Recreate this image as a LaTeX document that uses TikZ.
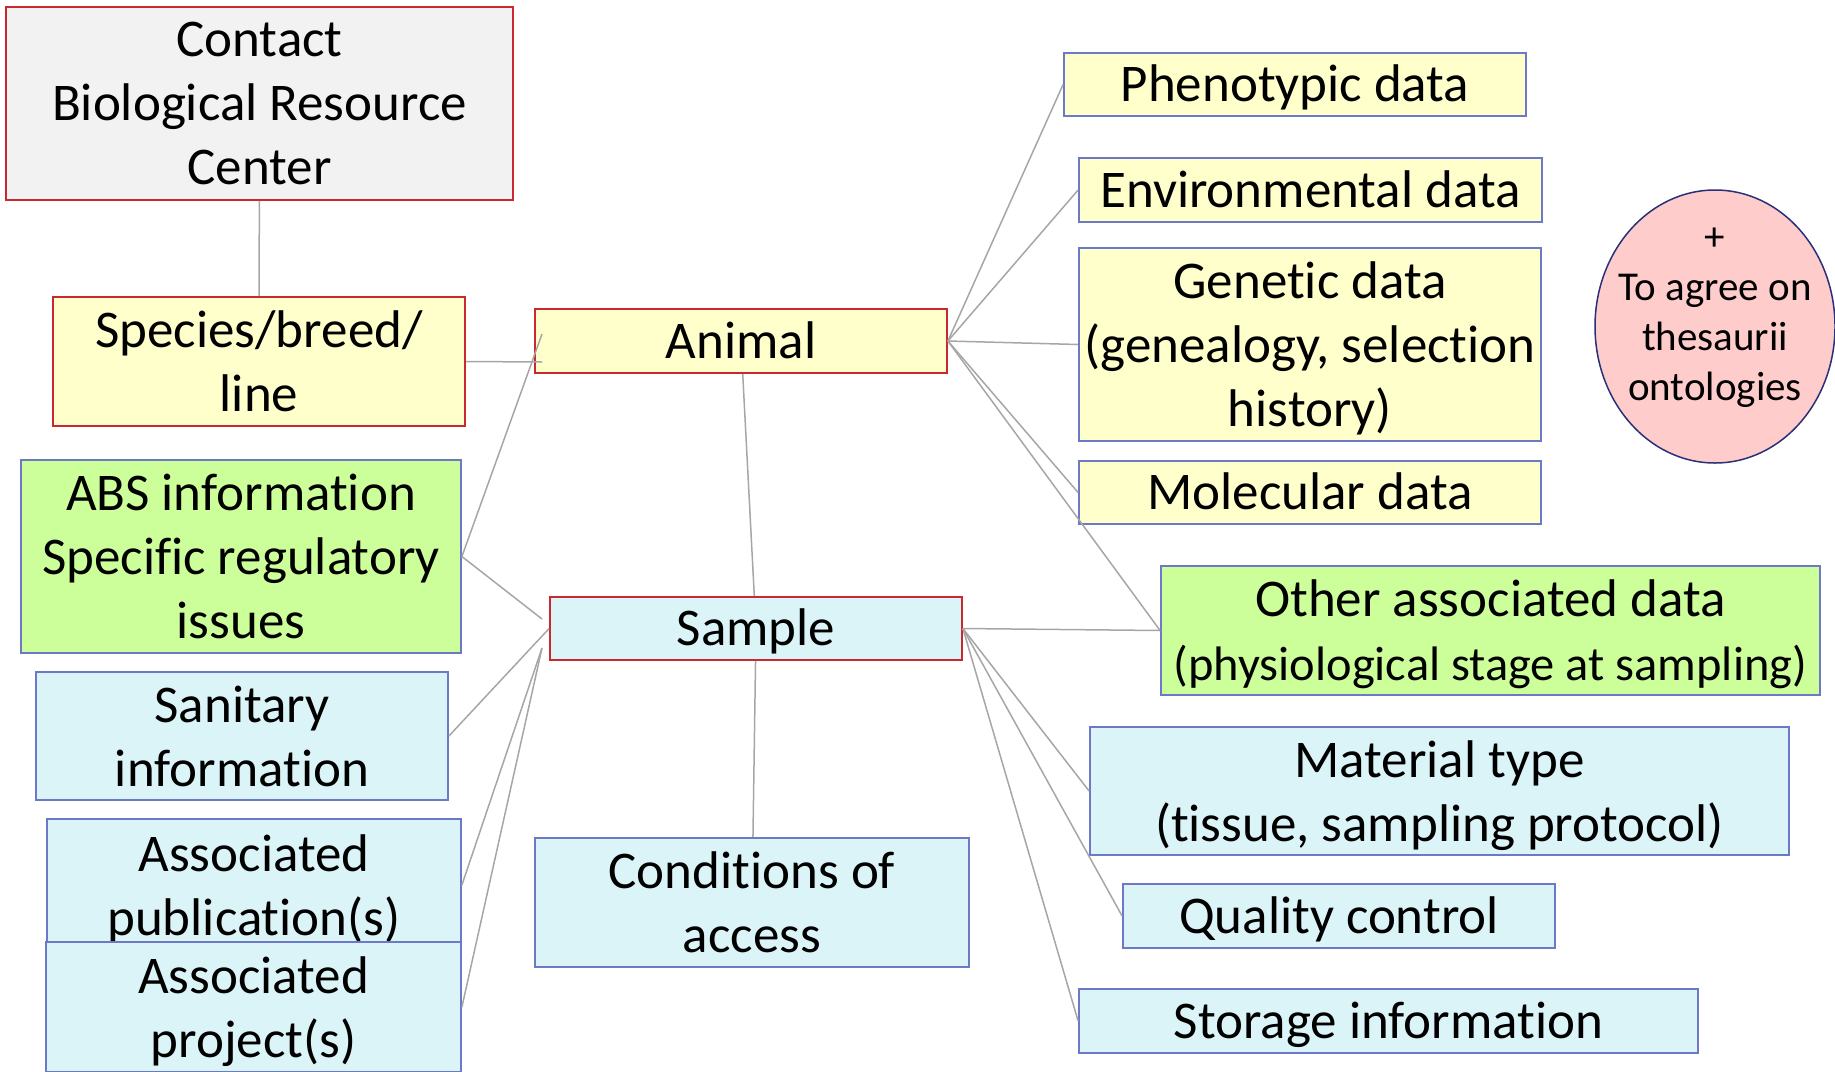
\documentclass[tikz,border=0pt]{standalone}
\usepackage{fontspec}
\setmainfont{Carlito}[Ligatures=NoCommon]
\usetikzlibrary{shapes.geometric}
\definecolor{redline}{HTML}{C8282E}
\definecolor{blueline}{HTML}{6D79C6}
\definecolor{navyline}{HTML}{28307A}
\definecolor{greyfill}{HTML}{F2F2F2}
\definecolor{yellowfill}{HTML}{FFFFCC}
\definecolor{greenfill}{HTML}{CCFF99}
\definecolor{bluefill}{HTML}{DBF4F8}
\definecolor{pinkfill}{HTML}{FFCCCC}
\definecolor{linkgrey}{HTML}{A6A6A6}
\tikzset{box/.style = {draw, line width = .9pt, inner sep = 0, align = center,
                       font = \fontsize{26.5}{32}\selectfont, text depth = 0pt},
         oneline/.style = {execute at begin node = \rule{0pt}{23pt},
                           execute at end node = \rule[-6pt]{0pt}{6pt}, text depth = 6pt},
         redbox/.style = {box, draw = redline},
         bluebox/.style = {box, draw = blueline},
         link/.style = {draw = linkgrey, line width = .75pt}}

\begin{document}
\begin{tikzpicture}[x = .5pt, y = -.5pt]
      \useasboundingbox (0, 0) rectangle (1835, 1071);
      % left column
      \node [redbox, fill = greyfill, minimum width = 253.5pt, minimum height = 96.5pt] (contact) at (259.5, 103.5) {Contact\\Biological Resource\\Center};
      \node [redbox, fill = yellowfill, minimum width = 206pt, minimum height = 64.5pt] (species) at (259, 361.5) {Species/breed/\\line};
      \node [bluebox, fill = greenfill, minimum width = 220pt, minimum height = 96.5pt] (abs) at (241, 556.5) {ABS information\\Specific regulatory\\issues};
      \node [bluebox, fill = bluefill, minimum width = 206pt, minimum height = 64pt] (sanitary) at (242, 736) {Sanitary\\information};
      \node [bluebox, fill = bluefill, minimum width = 207pt, minimum height = 66pt] (publication) at (254, 885) {Associated\\publication(s)};
      \node [bluebox, fill = bluefill, minimum width = 207.5pt, minimum height = 65pt] (project) at (253.5, 1007) {Associated\\project(s)};
      % middle column
      \node [redbox, oneline, fill = yellowfill, minimum width = 206pt, minimum height = 32pt] (animal) at (741, 341) {Animal};
      \node [redbox, oneline, fill = bluefill, minimum width = 206pt, minimum height = 31.5pt] (sample) at (756, 628.5) {Sample};
      \node [bluebox, fill = bluefill, minimum width = 217pt, minimum height = 64.5pt] (access) at (752, 902.5) {Conditions of\\access};
      % right column
      \node [bluebox, oneline, fill = yellowfill, minimum width = 231pt, minimum height = 31.5pt] (pheno) at (1295, 84.5) {Phenotypic data};
      \node [bluebox, oneline, fill = yellowfill, minimum width = 231.5pt, minimum height = 32pt] (environ) at (1310.5, 190) {Environmental data};
      \node [bluebox, fill = yellowfill, minimum width = 231pt, minimum height = 96.5pt] (genetic) at (1310, 344.5) {Genetic data\\(genealogy, selection\\history)};
      \node [bluebox, oneline, fill = yellowfill, minimum width = 231pt, minimum height = 31.5pt] (molecular) at (1310, 492.5) {Molecular data};
      \node [bluebox, fill = greenfill, minimum width = 329.5pt, minimum height = 64.5pt] (other) at (1490.5, 630.5) {Other associated data\\{\fontsize{24.2}{32}\selectfont (physiological stage at sampling)}};
      \node [bluebox, fill = bluefill, minimum width = 349.5pt, minimum height = 64pt] (material) at (1439.5, 791) {Material type\\(tissue, sampling protocol)};
      \node [bluebox, oneline, fill = bluefill, minimum width = 216pt, minimum height = 32pt] (quality) at (1339, 916) {Quality control};
      \node [bluebox, oneline, fill = bluefill, minimum width = 309.5pt, minimum height = 32pt] (storage) at (1388.5, 1021) {Storage information};
      \node [ellipse, draw = navyline, line width = .75pt, fill = pinkfill, inner sep = 0, minimum width = 120pt, minimum height = 136.5pt] (agree) at (1715, 326.5) {};
      \node [align = center, font = \fontsize{20.5}{25}\selectfont] (agreetext) at (1715, 317.5) {+\\To agree on\\thesaurii\\ontologies};
      % free ends
      \coordinate (animalin) at (542, 362);
      \coordinate (animaltip) at (542, 334);
      \coordinate (sampletip) at (542, 619);
      \coordinate (samplelow) at (542, 648);
      % links
      \draw [link] (contact) -- (species);
      \draw [link] (species.east) -- (animalin);
      \draw [link] (abs.east) -- (animaltip);
      \draw [link] (abs.east) -- (sampletip);
      \draw [link] (sanitary.east) -- (sample.west);
      \draw [link] (publication.east) -- (samplelow);
      \draw [link] (project.east) -- (samplelow);
      \draw [link] (animal) -- (sample);
      \draw [link] (sample) -- (access);
      \draw [link] (animal.east) -- (pheno.west);
      \draw [link] (animal.east) -- (environ.west);
      \draw [link] (animal.east) -- (genetic.west);
      \draw [link] (animal.east) -- (molecular.west);
      \draw [link] (animal.east) -- (other.west);
      \draw [link] (sample.east) -- (other.west);
      \draw [link] (sample.east) -- (material.west);
      \draw [link] (sample.east) -- (quality.west);
      \draw [link] (sample.east) -- (storage.west);
    \end{tikzpicture}
\end{document}
